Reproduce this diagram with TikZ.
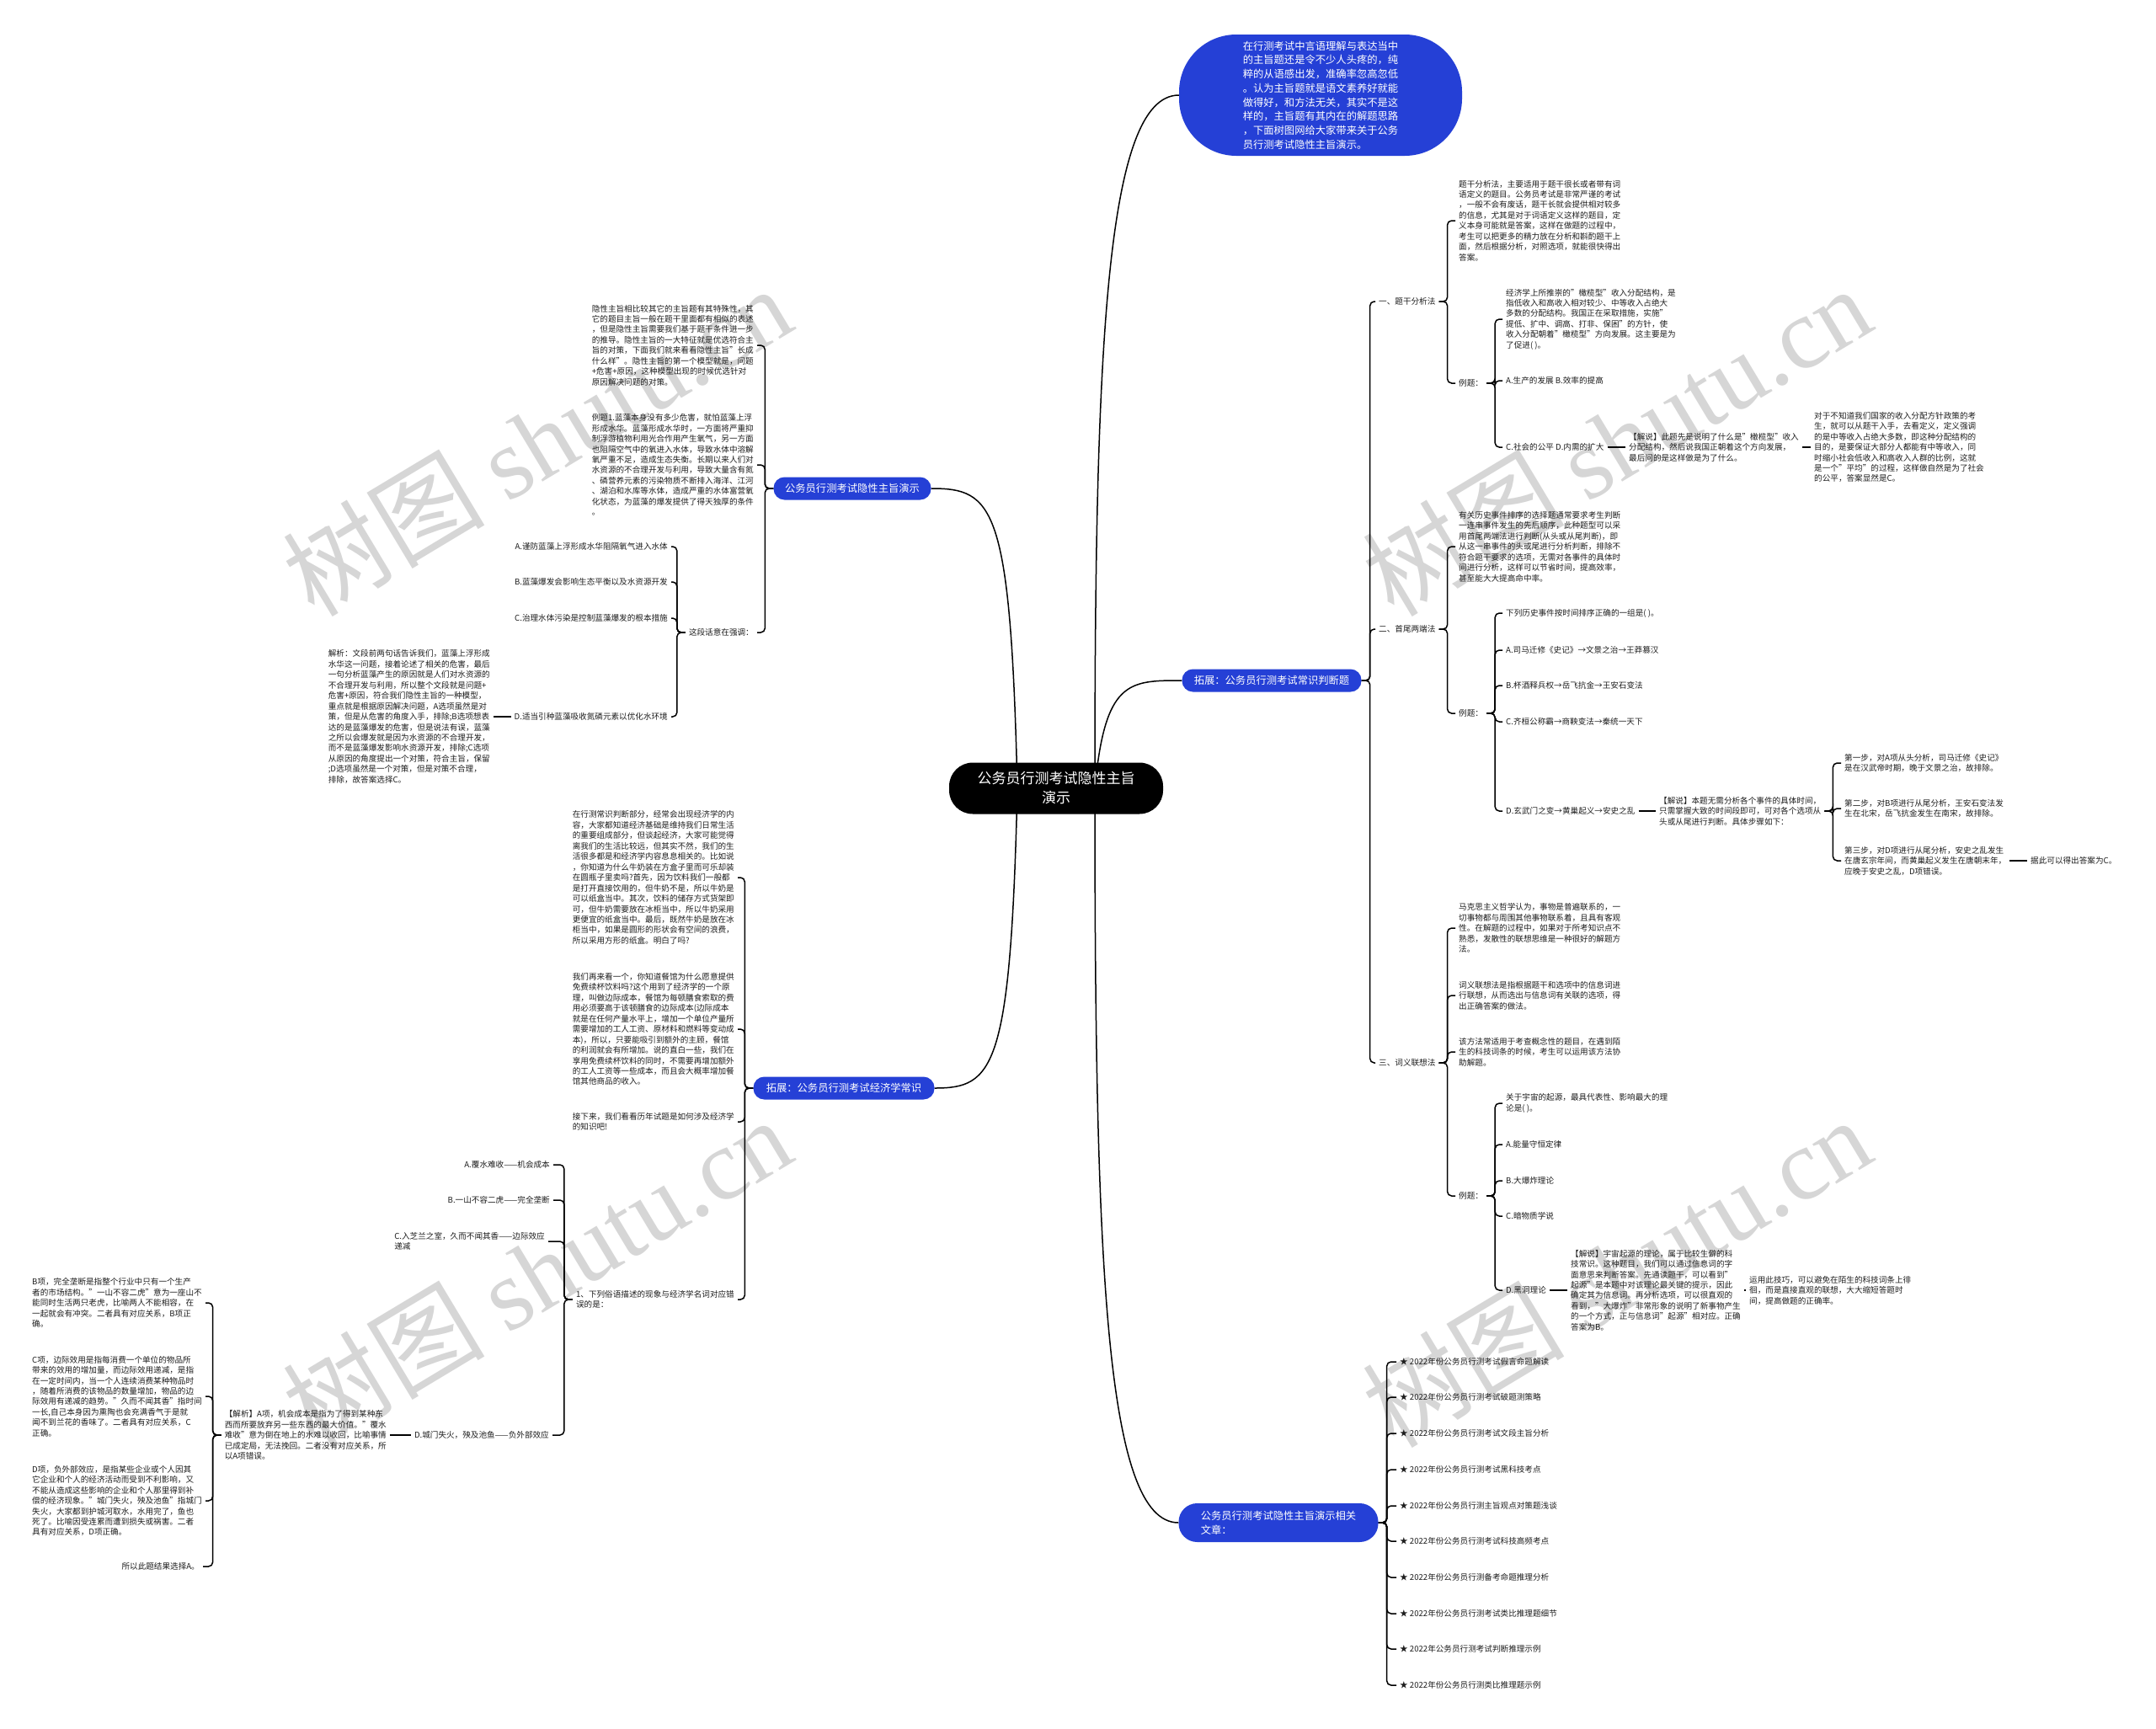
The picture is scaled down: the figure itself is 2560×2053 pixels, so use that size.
\documentclass[tikz,border=0pt]{standalone}
\usepackage{fontspec}
\setmainfont{Noto Sans CJK SC}
\newfontfamily\wmserif{Liberation Serif}
\usetikzlibrary{backgrounds}
\definecolor{mblue}{RGB}{37,64,214}
\definecolor{tcol}{RGB}{30,30,30}
\definecolor{wmc}{RGB}{214,214,214}
\newcommand\brR[2]{\draw[conn] (#1.east) -- ++(10,0) |- (#2.west);}
\newcommand\brL[2]{\draw[conn] (#1.west) -- ++(-10,0) |- (#2.east);}
\newcommand\stR[2]{\draw[conn] (#1.east) -- (#2.west);}
\newcommand\stL[2]{\draw[conn] (#1.west) -- (#2.east);}
\begin{document}
\begin{tikzpicture}[x=1pt,y=-1pt,
  txt/.style={font=\fontsize{9.6}{12.45}\selectfont, text=tcol, inner xsep=4pt, inner ysep=1pt, align=left},
  rt/.style={txt, anchor=west},
  lt/.style={txt, anchor=east},
  conn/.style={draw=black, line width=1.5pt, rounded corners=5pt},
  rconn/.style={draw=black, line width=1.5pt},
  bbox/.style={fill=mblue, text=white, rounded corners=13pt, font=\fontsize{12.3}{16.7}\selectfont, inner sep=0pt, minimum height=27pt, align=center},
  bubble/.style={fill=mblue, text=white, font=\fontsize{12.3}{16.7}\selectfont, inner sep=0pt, align=left},
  rootn/.style={fill=black, text=white, rounded corners=28pt, font=\fontsize{17}{23}\selectfont, inner sep=0pt, minimum width=254pt, minimum height=61pt, align=center},
  wmark/.style={text=wmc, rotate=31, font=\fontsize{120}{120}\selectfont, inner sep=0pt}
]
\useasboundingbox (0,0) rectangle (2560,2053);

% ---------- main nodes ----------
\node[rootn] (root) at (1254,936) {公务员行测考试隐性主旨\\演示};
\node[bubble, minimum width=336pt, minimum height=144pt, rounded corners=68pt] (topb) at (1568,113) {在行测考试中言语理解与表达当中\\的主旨题还是令不少人头疼的，纯\\粹的从语感出发，准确率忽高忽低\\。认为主旨题就是语文素养好就能\\做得好，和方法无关，其实不是这\\样的，主旨题有其内在的解题思路\\，下面树图网给大家带来关于公务\\员行测考试隐性主旨演示。};
\node[bbox, minimum width=213pt] (R) at (1510,808) {拓展：公务员行测考试常识判断题};
\node[bubble, minimum width=237pt, minimum height=46pt, rounded corners=22pt] (rel) at (1518,1808) {公务员行测考试隐性主旨演示相关\\文章：};
\node[bbox, minimum width=187pt] (L1) at (1012,580) {公务员行测考试隐性主旨演示};
\node[bbox, minimum width=215pt] (L2) at (1002,1292) {拓展：公务员行测考试经济学常识};

% ---------- right subtree ----------
\node[rt] (S1) at (1633,358) {一、题干分析法};
\node[rt] (S2) at (1633,747) {二、首尾两端法};
\node[rt] (S3) at (1633,1262) {三、词义联想法};

\node[rt] (P1) at (1728,262) {题干分析法，主要适用于题干很长或者带有词\\语定义的题目。公务员考试是非常严谨的考试\\，一般不会有废话，题干长就会提供相对较多\\的信息，尤其是对于词语定义这样的题目，定\\义本身可能就是答案，这样在做题的过程中，\\考生可以把更多的精力放在分析和斟酌题干上\\面，然后根据分析，对照选项，就能很快得出\\答案。};
\node[rt] (E1) at (1728,455) {例题：};
\node[rt] (Q1) at (1784,379) {经济学上所推崇的"橄榄型"收入分配结构，是\\指低收入和高收入相对较少、中等收入占绝大\\多数的分配结构。我国正在采取措施，实施"\\提低、扩中、调高、打非、保困"的方针，使\\收入分配朝着"橄榄型"方向发展。这主要是为\\了促进( )。};
\node[rt] (A1) at (1784,452) {A.生产的发展 B.效率的提高};
\node[rt] (C1) at (1784,531) {C.社会的公平 D.内需的扩大};
\node[rt] (J1) at (1930,531) {【解说】此题先是说明了什么是"橄榄型"收入\\分配结构，然后说我国正朝着这个方向发展，\\最后问的是这样做是为了什么。};
\node[rt] (K1) at (2150,531) {对于不知道我们国家的收入分配方针政策的考\\生，就可以从题干入手，去看定义，定义强调\\的是中等收入占绝大多数，即这种分配结构的\\目的，是要保证大部分人都能有中等收入，同\\时缩小社会低收入和高收入人群的比例，这就\\是一个"平均"的过程，这样做自然是为了社会\\的公平，答案显然是C。};

\node[rt] (P2) at (1728,649) {有关历史事件排序的选择题通常要求考生判断\\一连串事件发生的先后顺序，此种题型可以采\\用首尾两端法进行判断(从头或从尾判断)，即\\从这一串事件的头或尾进行分析判断，排除不\\符合题干要求的选项，无需对各事件的具体时\\间进行分析，这样可以节省时间，提高效率，\\甚至能大大提高命中率。};
\node[rt] (E2) at (1728,847) {例题：};
\node[rt] (Q2) at (1784,728) {下列历史事件按时间排序正确的一组是( )。};
\node[rt] (A2) at (1784,772) {A.司马迁修《史记》→文景之治→王莽篡汉};
\node[rt] (B2) at (1784,814) {B.杯酒释兵权→岳飞抗金→王安石变法};
\node[rt] (C2) at (1784,857) {C.齐桓公称霸→商鞅变法→秦统一天下};
\node[rt] (D2) at (1784,963) {D.玄武门之变→黄巢起义→安史之乱};
\node[rt] (J2) at (1966,963) {【解说】本题无需分析各个事件的具体时间，\\只需掌握大致的时间段即可，可对各个选项从\\头或从尾进行判断。具体步骤如下：};
\node[rt] (St1) at (2186,906) {第一步，对A项从头分析，司马迁修《史记》\\是在汉武帝时期，晚于文景之治，故排除。};
\node[rt] (St2) at (2186,960) {第二步，对B项进行从尾分析，王安石变法发\\生在北宋，岳飞抗金发生在南宋，故排除。};
\node[rt] (St3) at (2186,1022) {第三步，对D项进行从尾分析，安史之乱发生\\在唐玄宗年间，而黄巢起义发生在唐朝末年，\\应晚于安史之乱，D项错误。};
\node[rt] (Fin) at (2407,1022) {据此可以得出答案为C。};

\node[rt] (P3a) at (1728,1102) {马克思主义哲学认为，事物是普遍联系的，一\\切事物都与周围其他事物联系着，且具有客观\\性。在解题的过程中，如果对于所考知识点不\\熟悉，发散性的联想思维是一种很好的解题方\\法。};
\node[rt] (P3b) at (1728,1182) {词义联想法是指根据题干和选项中的信息词进\\行联想，从而选出与信息词有关联的选项，得\\出正确答案的做法。};
\node[rt] (P3c) at (1728,1249) {该方法常适用于考查概念性的题目，在遇到陌\\生的科技词条的时候，考生可以运用该方法协\\助解题。};
\node[rt] (E3) at (1728,1420) {例题：};
\node[rt] (Q3) at (1784,1310) {关于宇宙的起源，最具代表性、影响最大的理\\论是( )。};
\node[rt] (A3) at (1784,1359) {A.能量守恒定律};
\node[rt] (B3) at (1784,1402) {B.大爆炸理论};
\node[rt] (C3) at (1784,1444) {C.暗物质学说};
\node[rt] (D3) at (1784,1532) {D.黑洞理论};
\node[rt] (J3) at (1861,1532) {【解说】宇宙起源的理论，属于比较生僻的科\\技常识。这种题目，我们可以通过信息词的字\\面意思来判断答案。先通读题干，可以看到"\\起源"是本题中对该理论最关键的提示，因此\\确定其为信息词。再分析选项，可以很直观的\\看到，"大爆炸"非常形象的说明了新事物产生\\的一个方式，正与信息词"起源"相对应。正确\\答案为B。};
\node[rt] (K3) at (2073,1532) {运用此技巧，可以避免在陌生的科技词条上徘\\徊，而是直接直观的联想，大大缩短答题时\\间，提高做题的正确率。};

% ---------- related articles ----------
\node[rt] (ar1) at (1658,1617) {★ 2022年份公务员行测考试假言命题解读};
\node[rt] (ar2) at (1658,1659) {★ 2022年份公务员行测考试破题测策略};
\node[rt] (ar3) at (1658,1702) {★ 2022年份公务员行测考试文段主旨分析};
\node[rt] (ar4) at (1658,1745) {★ 2022年份公务员行测考试黑科技考点};
\node[rt] (ar5) at (1658,1788) {★ 2022年份公务员行测主旨观点对策题浅谈};
\node[rt] (ar6) at (1658,1830) {★ 2022年份公务员行测考试科技高频考点};
\node[rt] (ar7) at (1658,1873) {★ 2022年份公务员行测备考命题推理分析};
\node[rt] (ar8) at (1658,1916) {★ 2022年份公务员行测考试类比推理题细节};
\node[rt] (ar9) at (1658,1958) {★ 2022年公务员行测考试判断推理示例};
\node[rt] (ar10) at (1658,2001) {★ 2022年份公务员行测类比推理题示例};

% ---------- left subtree 1 ----------
\node[lt] (LP1) at (899,410) {隐性主旨相比较其它的主旨题有其特殊性，其\\它的题目主旨一般在题干里面都有相似的表述\\，但是隐性主旨需要我们基于题干条件进一步\\的推导。隐性主旨的一大特征就是优选符合主\\旨的对策，下面我们就来看看隐性主旨"长成\\什么样"。隐性主旨的第一个模型就是，问题\\+危害+原因，这种模型出现的时候优选针对\\原因解决问题的对策。};
\node[lt] (LP2) at (899,552) {例题1.蓝藻本身没有多少危害，就怕蓝藻上浮\\形成水华。蓝藻形成水华时，一方面将严重抑\\制浮游植物利用光合作用产生氧气，另一方面\\也阻隔空气中的氧进入水体，导致水体中溶解\\氧严重不足，造成生态失衡。长期以来人们对\\水资源的不合理开发与利用，导致大量含有氮\\、磷营养元素的污染物质不断排入海洋、江河\\、湖泊和水库等水体，造成严重的水体富营氧\\化状态，为蓝藻的爆发提供了得天独厚的条件\\。};
\node[lt] (LQ1) at (899,751) {这段话意在强调：};
\node[lt] (LA) at (797,649) {A.谨防蓝藻上浮形成水华阻隔氧气进入水体};
\node[lt] (LB) at (797,691) {B.蓝藻爆发会影响生态平衡以及水资源开发};
\node[lt] (LC) at (797,734) {C.治理水体污染是控制蓝藻爆发的根本措施};
\node[lt] (LD) at (797,851) {D.适当引种蓝藻吸收氮磷元素以优化水环境};
\node[lt] (LJ1) at (586,851) {解析：文段前两句话告诉我们，蓝藻上浮形成\\水华这一问题，接着论述了相关的危害，最后\\一句分析蓝藻产生的原因就是人们对水资源的\\不合理开发与利用，所以整个文段就是问题+\\危害+原因，符合我们隐性主旨的一种模型，\\重点就是根据原因解决问题，A选项虽然是对\\策，但是从危害的角度入手，排除;B选项想表\\达的是蓝藻爆发的危害，但是说法有误，蓝藻\\之所以会爆发就是因为水资源的不合理开发，\\而不是蓝藻爆发影响水资源开发，排除;C选项\\从原因的角度提出一个对策，符合主旨，保留\\;D选项虽然是一个对策，但是对策不合理，\\排除，故答案选择C。};

% ---------- left subtree 2 ----------
\node[lt] (LP3) at (876,1042) {在行测常识判断部分，经常会出现经济学的内\\容，大家都知道经济基础是维持我们日常生活\\的重要组成部分，但谈起经济，大家可能觉得\\离我们的生活比较远，但其实不然，我们的生\\活很多都是和经济学内容息息相关的。比如说\\，你知道为什么牛奶装在方盒子里而可乐却装\\在圆瓶子里卖吗?首先，因为饮料我们一般都\\是打开直接饮用的，但牛奶不是，所以牛奶是\\可以纸盒当中。其次，饮料的储存方式货架即\\可，但牛奶需要放在冰柜当中，所以牛奶采用\\更便宜的纸盒当中。最后，既然牛奶是放在冰\\柜当中，如果是圆形的形状会有空间的浪费，\\所以采用方形的纸盒。明白了吗?};
\node[lt] (LP4) at (876,1222) {我们再来看一个，你知道餐馆为什么愿意提供\\免费续杯饮料吗?这个用到了经济学的一个原\\理，叫做边际成本，餐馆为每顿膳食索取的费\\用必须要高于该顿膳食的边际成本(边际成本\\就是在任何产量水平上，增加一个单位产量所\\需要增加的工人工资、原材料和燃料等变动成\\本)，所以，只要能吸引到额外的主顾，餐馆\\的利润就会有所增加。说的直白一些，我们在\\享用免费续杯饮料的同时，不需要再增加额外\\的工人工资等一些成本，而且会大概率增加餐\\馆其他商品的收入。};
\node[lt] (LP5) at (876,1332) {接下来，我们看看历年试题是如何涉及经济学\\的知识吧!};
\node[lt] (LQ2) at (876,1543) {1、下列俗语描述的现象与经济学名词对应错\\误的是：};
\node[lt] (LA2) at (657,1383) {A.覆水难收——机会成本};
\node[lt] (LB2) at (657,1425) {B.一山不容二虎——完全垄断};
\node[lt] (LC2) at (651,1474) {C.入芝兰之室，久而不闻其香——边际效应\\递减};
\node[lt] (LD2) at (656,1704) {D.城门失火，殃及池鱼——负外部效应};
\node[lt] (LJ2) at (463,1704) {【解析】A项，机会成本是指为了得到某种东\\西而所要放弃另一些东西的最大价值。"覆水\\难收"意为倒在地上的水难以收回，比喻事情\\已成定局，无法挽回。二者没有对应关系，所\\以A项错误。};
\node[lt] (LB3) at (244,1547) {B项，完全垄断是指整个行业中只有一个生产\\者的市场结构。"一山不容二虎"意为一座山不\\能同时生活两只老虎，比喻两人不能相容，在\\一起就会有冲突。二者具有对应关系，B项正\\确。};
\node[lt] (LC3) at (244,1658) {C项，边际效用是指每消费一个单位的物品所\\带来的效用的增加量，而边际效用递减，是指\\在一定时间内，当一个人连续消费某种物品时\\，随着所消费的该物品的数量增加，物品的边\\际效用有递减的趋势。"久而不闻其香"指时间\\一长,自己本身因为熏陶也会充满香气于是就\\闻不到兰花的香味了。二者具有对应关系，C\\正确。};
\node[lt] (LD3) at (244,1782) {D项，负外部效应，是指某些企业或个人因其\\它企业和个人的经济活动而受到不利影响，又\\不能从造成这些影响的企业和个人那里得到补\\偿的经济现象。"城门失火，殃及池鱼"指城门\\失火，大家都到护城河取水，水用完了，鱼也\\死了。比喻因受连累而遭到损失或祸害。二者\\具有对应关系，D项正确。};
\node[lt] (LE3) at (241,1860) {所以此题结果选择A。};

\begin{pgfonlayer}{background}
\fill[white] (0,0) rectangle (2560,2053);
% watermarks
\node[wmark] (wm1) at (637,523) {树图 {\wmserif shutu.cn}};
\node[wmark] (wm2) at (1919,523) {树图 {\wmserif shutu.cn}};
\node[wmark] (wm3) at (637,1510) {树图 {\wmserif shutu.cn}};
\node[wmark] (wm4) at (1919,1510) {树图 {\wmserif shutu.cn}};

% root connectors
\coordinate (rsR) at (1300,936);
\coordinate (rsL) at (1208,936);
\draw[rconn] (rsR) .. controls (1300,420) and (1312,113) .. (topb.west);
\draw[rconn] (rsR) .. controls (1312,808) and (1340,808) .. (R.west);
\draw[rconn] (rsR) .. controls (1300,1500) and (1312,1808) .. (rel.west);
\draw[rconn] (rsL) .. controls (1200,600) and (1180,580) .. (L1.east);
\draw[rconn] (rsL) .. controls (1200,1270) and (1180,1292) .. (L2.east);

% right braces
\brR{R}{S1}\brR{R}{S2}\brR{R}{S3}
\brR{S1}{P1}\brR{S1}{E1}
\brR{E1}{Q1}\brR{E1}{A1}\brR{E1}{C1}
\stR{C1}{J1}\stR{J1}{K1}
\brR{S2}{P2}\brR{S2}{E2}
\brR{E2}{Q2}\brR{E2}{A2}\brR{E2}{B2}\brR{E2}{C2}\brR{E2}{D2}
\stR{D2}{J2}
\brR{J2}{St1}\brR{J2}{St2}\brR{J2}{St3}
\stR{St3}{Fin}
\brR{S3}{P3a}\brR{S3}{P3b}\brR{S3}{P3c}\brR{S3}{E3}
\brR{E3}{Q3}\brR{E3}{A3}\brR{E3}{B3}\brR{E3}{C3}\brR{E3}{D3}
\stR{D3}{J3}\stR{J3}{K3}
\foreach \i in {1,...,10} {\brR{rel}{ar\i}}

% left braces
\brL{L1}{LP1}\brL{L1}{LP2}\brL{L1}{LQ1}
\brL{LQ1}{LA}\brL{LQ1}{LB}\brL{LQ1}{LC}\brL{LQ1}{LD}
\stL{LD}{LJ1}
\brL{L2}{LP3}\brL{L2}{LP4}\brL{L2}{LP5}\brL{L2}{LQ2}
\brL{LQ2}{LA2}\brL{LQ2}{LB2}\brL{LQ2}{LC2}\brL{LQ2}{LD2}
\stL{LD2}{LJ2}
\brL{LJ2}{LB3}\brL{LJ2}{LC3}\brL{LJ2}{LD3}\brL{LJ2}{LE3}
\end{pgfonlayer}
\end{tikzpicture}
\end{document}
